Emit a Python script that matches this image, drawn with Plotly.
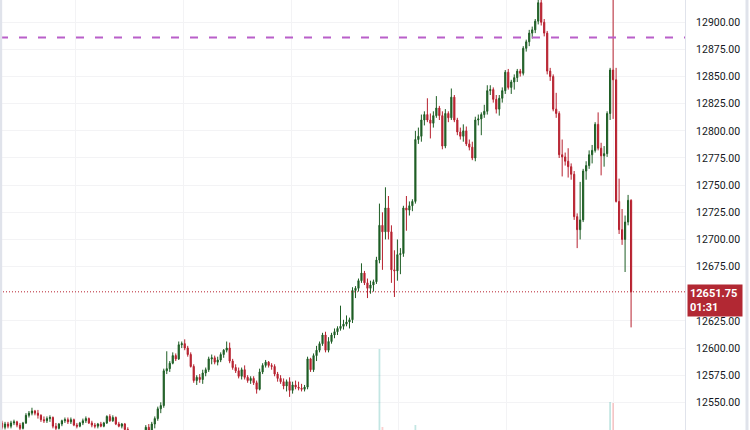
import plotly.graph_objects as go

open_ = [12531, 12527, 12530, 12528, 12531, 12532, 12529, 12526, 12531, 12538,
         12540, 12542, 12540, 12538, 12534, 12533, 12535, 12536, 12528, 12526,
         12530, 12533, 12534, 12532, 12534, 12529, 12528, 12531, 12533, 12535,
         12531, 12529, 12528, 12530, 12528, 12531, 12537, 12533, 12536, 12530,
         12528, 12530, 12525, 12522, 12523, 12518, 12515, 12518, 12521, 12527,
         12524, 12530, 12535, 12544, 12547, 12579, 12581, 12586, 12593, 12590,
         12603, 12604, 12600, 12594, 12583, 12570, 12573, 12571, 12577, 12580,
         12590, 12591, 12587, 12589, 12594, 12598, 12600, 12588, 12582, 12579,
         12574, 12580, 12573, 12570, 12572, 12568, 12562, 12578, 12584, 12587,
         12584, 12583, 12576, 12572, 12569, 12565, 12569, 12561, 12566, 12564,
         12563, 12562, 12564, 12590, 12580, 12593, 12598, 12604, 12612, 12598,
         12606, 12612, 12615, 12618, 12620, 12622, 12624, 12626, 12653, 12655,
         12662, 12669, 12660, 12655, 12658, 12661, 12681, 12713, 12707, 12729,
         12707, 12672, 12671, 12686, 12687, 12729, 12727, 12731, 12735, 12792,
         12795, 12810, 12815, 12810, 12807, 12814, 12821, 12814, 12786, 12816,
         12812, 12831, 12810, 12799, 12795, 12800, 12788, 12785, 12775, 12810,
         12811, 12815, 12818, 12837, 12838, 12829, 12820, 12830, 12837, 12854,
         12840, 12845, 12849, 12855, 12853, 12876, 12882, 12890, 12893, 12901,
         12918, 12900, 12890, 12855, 12850, 12820, 12816, 12778, 12776, 12772,
         12767, 12760, 12721, 12709, 12718, 12763, 12768, 12778, 12782, 12806,
         12784, 12777, 12779, 12816, 12856, 12847, 12735, 12709, 12700, 12716,
         12736]
high = [12533, 12532, 12532, 12533, 12534, 12533, 12531, 12532, 12540, 12542,
        12545, 12543, 12543, 12539, 12537, 12537, 12538, 12537, 12531, 12531,
        12534, 12536, 12536, 12536, 12535, 12531, 12532, 12535, 12537, 12536,
        12533, 12531, 12531, 12532, 12532, 12538, 12539, 12538, 12537, 12532,
        12531, 12531, 12527, 12524, 12524, 12520, 12519, 12523, 12529, 12530,
        12532, 12537, 12546, 12550, 12581, 12597, 12588, 12596, 12595, 12606,
        12606, 12608, 12602, 12596, 12585, 12575, 12576, 12580, 12582, 12592,
        12594, 12593, 12592, 12596, 12599, 12606, 12605, 12590, 12585, 12582,
        12582, 12584, 12575, 12574, 12574, 12570, 12581, 12586, 12589, 12588,
        12586, 12585, 12578, 12575, 12572, 12571, 12573, 12569, 12570, 12569,
        12567, 12566, 12592, 12591, 12595, 12602, 12606, 12614, 12615, 12610,
        12614, 12618, 12620, 12639, 12626, 12630, 12628, 12656, 12657, 12664,
        12678, 12671, 12664, 12662, 12663, 12684, 12733, 12725, 12748, 12740,
        12713, 12690, 12700, 12692, 12731, 12740, 12735, 12737, 12800, 12803,
        12815, 12818, 12830, 12816, 12818, 12832, 12823, 12818, 12820, 12818,
        12839, 12833, 12812, 12803, 12806, 12804, 12792, 12790, 12813, 12815,
        12817, 12824, 12842, 12842, 12840, 12833, 12833, 12840, 12856, 12857,
        12847, 12852, 12857, 12857, 12878, 12884, 12893, 12896, 12903, 12930,
        12932, 12903, 12892, 12858, 12852, 12835, 12818, 12792, 12780, 12784,
        12770, 12763, 12724, 12753, 12765, 12772, 12782, 12787, 12808, 12817,
        12789, 12786, 12818, 12858, 12935, 12858, 12756, 12728, 12722, 12741,
        12737]
low = [12525, 12525, 12526, 12526, 12529, 12527, 12524, 12525, 12530, 12536,
       12538, 12538, 12535, 12532, 12531, 12531, 12532, 12526, 12524, 12525,
       12528, 12531, 12530, 12530, 12528, 12526, 12527, 12529, 12531, 12530,
       12527, 12526, 12526, 12527, 12527, 12530, 12532, 12532, 12529, 12527,
       12526, 12524, 12520, 12518, 12516, 12513, 12512, 12516, 12519, 12522,
       12522, 12526, 12533, 12540, 12545, 12576, 12578, 12585, 12588, 12589,
       12600, 12598, 12592, 12582, 12568, 12566, 12568, 12567, 12574, 12578,
       12585, 12585, 12584, 12587, 12591, 12596, 12586, 12580, 12577, 12572,
       12571, 12571, 12568, 12567, 12566, 12558, 12561, 12576, 12582, 12582,
       12580, 12574, 12569, 12567, 12562, 12560, 12555, 12558, 12562, 12561,
       12560, 12560, 12562, 12578, 12578, 12588, 12596, 12602, 12596, 12596,
       12604, 12609, 12612, 12616, 12617, 12620, 12618, 12623, 12646, 12652,
       12660, 12658, 12646, 12650, 12652, 12659, 12678, 12672, 12700, 12700,
       12660, 12647, 12662, 12668, 12684, 12708, 12722, 12726, 12733, 12788,
       12790, 12805, 12808, 12793, 12803, 12812, 12810, 12783, 12784, 12808,
       12810, 12808, 12796, 12792, 12790, 12786, 12782, 12773, 12772, 12805,
       12796, 12812, 12815, 12833, 12826, 12816, 12814, 12826, 12834, 12838,
       12834, 12838, 12845, 12850, 12851, 12873, 12878, 12885, 12890, 12898,
       12897, 12887, 12852, 12846, 12818, 12812, 12775, 12758, 12768, 12757,
       12755, 12718, 12692, 12700, 12716, 12755, 12765, 12770, 12780, 12782,
       12759, 12767, 12776, 12810, 12811, 12734, 12705, 12695, 12670, 12713,
       12619]
close = [12527, 12530, 12528, 12531, 12532, 12529, 12526, 12531, 12538, 12540,
         12542, 12540, 12538, 12534, 12533, 12535, 12536, 12528, 12526, 12530,
         12533, 12534, 12532, 12534, 12529, 12528, 12531, 12533, 12535, 12531,
         12529, 12528, 12530, 12528, 12531, 12537, 12533, 12536, 12530, 12528,
         12530, 12525, 12522, 12523, 12518, 12515, 12518, 12521, 12527, 12524,
         12530, 12535, 12544, 12547, 12579, 12581, 12586, 12593, 12590, 12603,
         12604, 12600, 12594, 12583, 12570, 12573, 12571, 12577, 12580, 12590,
         12591, 12587, 12589, 12594, 12598, 12600, 12588, 12582, 12579, 12574,
         12580, 12573, 12570, 12572, 12568, 12562, 12578, 12584, 12587, 12584,
         12583, 12576, 12572, 12569, 12565, 12569, 12561, 12566, 12564, 12563,
         12562, 12564, 12590, 12580, 12593, 12598, 12604, 12612, 12598, 12606,
         12612, 12615, 12618, 12620, 12622, 12624, 12626, 12653, 12655, 12662,
         12669, 12660, 12655, 12658, 12661, 12681, 12713, 12707, 12729, 12707,
         12672, 12671, 12686, 12687, 12729, 12727, 12731, 12735, 12792, 12795,
         12810, 12815, 12810, 12807, 12814, 12821, 12814, 12786, 12816, 12812,
         12831, 12810, 12799, 12795, 12800, 12788, 12785, 12775, 12810, 12811,
         12815, 12818, 12837, 12838, 12829, 12820, 12830, 12837, 12854, 12840,
         12845, 12849, 12855, 12853, 12876, 12882, 12890, 12893, 12901, 12918,
         12900, 12890, 12855, 12850, 12820, 12816, 12778, 12776, 12772, 12767,
         12760, 12721, 12709, 12718, 12763, 12768, 12778, 12782, 12806, 12784,
         12777, 12779, 12816, 12856, 12847, 12735, 12709, 12700, 12716, 12736,
         12651.75]
volume = [2100, 1800, 1900, 1700, 1600, 2000, 2300, 2200, 3900, 2600,
          2400, 1900, 2100, 2300, 1800, 1700, 1900, 2800, 2400, 2100,
          1900, 1700, 1600, 1800, 2200, 1900, 1800, 2000, 2100, 2300,
          2000, 1800, 1700, 1900, 1800, 2600, 2500, 2200, 2700, 2300,
          2100, 2900, 3100, 2400, 2800, 3300, 2900, 2700, 3000, 2500,
          3200, 3600, 4500, 3800, 7400, 4600, 3300, 3900, 3100, 3700,
          3000, 2800, 3500, 3900, 4400, 3200, 2900, 3100, 2800, 3600,
          2700, 2500, 2400, 2900, 3300, 3400, 3800, 3500, 3000, 3200,
          3100, 2900, 2600, 2500, 2700, 3400, 3600, 2900, 2800, 2600,
          2500, 2900, 3100, 2800, 2700, 2900, 3500, 2800, 2500, 2400,
          2300, 2600, 4800, 3200, 3900, 3400, 3000, 3600, 3800, 3300,
          3100, 2900, 2800, 3700, 2700, 2900, 2600, 5900, 3300, 3800,
          4400, 3900, 4100, 3000, 2900, 4600, 16100, 8300, 7200, 6500,
          7000, 6200, 5600, 4800, 7600, 5100, 4200, 3900, 8500, 5200,
          5400, 4300, 4700, 4100, 3600, 4000, 3500, 5800, 5300, 3700,
          4900, 4400, 3800, 3300, 3200, 3600, 3100, 4200, 5100, 3400,
          3300, 3000, 4300, 3100, 3500, 3800, 3600, 3400, 5200, 3900,
          3300, 3100, 3500, 2900, 4900, 3800, 4100, 3500, 4200, 6100,
          7500, 4800, 6400, 4300, 6200, 4000, 6600, 4400, 3700, 4100,
          3900, 6800, 5700, 5100, 6200, 4200, 3600, 3400, 5000, 4800,
          4300, 3900, 6100, 10800, 10700, 7900, 6800, 5300, 5900, 4600,
          7700]
alert_level = 12886
countdown = "01:31"

GREEN = "#1e5e25"
RED = "#b7212f"

x = list(range(len(close)))
last = close[-1]
vol_colors = ["rgba(38,166,154,0.28)" if c >= o else "rgba(239,83,80,0.28)"
              for o, c in zip(open_, close)]
# comme TradingView : on cache les graduations masquées par l'étiquette du prix
ticks = [v for v in range(12500, 12950, 25) if abs(v - last) > 12]

fig = go.Figure()
fig.add_trace(go.Bar(x=x, y=volume, marker_color=vol_colors, marker_line_width=0,
                     width=0.6, yaxis="y2", hoverinfo="skip"))
fig.add_trace(go.Candlestick(
    x=x, open=open_, high=high, low=low, close=close,
    increasing=dict(line=dict(color=GREEN, width=1), fillcolor=GREEN),
    decreasing=dict(line=dict(color=RED, width=1), fillcolor=RED),
))

fig.add_shape(type="line", xref="paper", x0=0, x1=1, yref="y", y0=alert_level, y1=alert_level,
              line=dict(color="#b95fc9", width=2, dash="8px,11px"))
fig.add_shape(type="line", xref="paper", x0=0, x1=1, yref="y", y0=last, y1=last,
              line=dict(color=RED, width=1, dash="1px,2px"))
# bordures
fig.add_shape(type="line", xref="paper", x0=0.001, x1=0.001, yref="paper", y0=0, y1=1,
              line=dict(color="#e0e3eb", width=3))
fig.add_shape(type="line", xref="paper", x0=1.0905, x1=1.0905, yref="paper", y0=0, y1=1,
              line=dict(color="#e0e3eb", width=3))

fig.add_annotation(xref="paper", x=1, xanchor="left", xshift=2,
                   yref="y", y=last, yanchor="top", yshift=8,
                   text=f"<b>{last:.2f}</b><br><b>{countdown}</b>", align="left",
                   showarrow=False, bgcolor="#b22833", borderpad=2, width=50,
                   font=dict(color="white", size=11, family="Roboto"))

fig.update_layout(
    width=750, height=430,
    margin=dict(l=0, r=65, t=0, b=0),
    plot_bgcolor="white", paper_bgcolor="white",
    showlegend=False, boxgap=0.45,
    font=dict(family="Roboto", size=10.5, color="#131722"),
    xaxis=dict(range=[-0.668, 228.0], showticklabels=False, showgrid=True,
               gridcolor="#f3f3f5", tick0=24.7, dtick=35.9, zeroline=False,
               rangeslider=dict(visible=False)),
    yaxis=dict(side="right", range=[12524.5, 12920.5], tickvals=ticks,
               tickformat=".2f", gridcolor="#f3f3f5", showline=True,
               linecolor="#e0e3eb", ticks="", ticklabelstandoff=8, zeroline=False),
    yaxis2=dict(overlaying="y", range=[8000, 51000], visible=False),
)

fig.write_html("out.html", config={"displayModeBar": False},
               post_script="document.body.style.margin='0';")
